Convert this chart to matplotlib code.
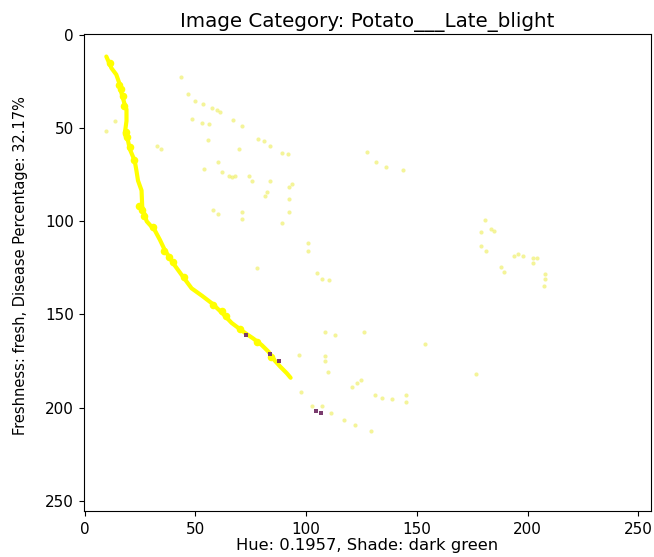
import matplotlib
matplotlib.use("Agg")
import matplotlib.pyplot as plt

title = "Image Category: Potato___Late_blight"
xlabel = "Hue: 0.1957, Shade: dark green"
ylabel = "Freshness: fresh, Disease Percentage: 32.17%"
ticks = [0, 50, 100, 150, 200, 250]

# main bright band (image pixel coords: column, row)
curve_x = [9.8, 12.1, 14.3, 15.9, 16.6, 18.1, 18.9, 18.9, 18.1, 19.6, 20.4, 22.6, 23.4, 24.1,
           25.7, 26.0, 28.0, 31.7, 34.0, 36.2, 40.0, 43.8, 48.3, 53.0, 57.4, 61.9, 66.4,
           72.5, 76.2, 80.0, 83.0, 86.0, 88.3, 91.3, 93.0]
curve_y = [11.6, 17.8, 21.3, 26.7, 31.1, 37.3, 40.0, 46.2, 53.3, 56.9, 61.3, 67.5, 72.9, 78.2,
           83.5, 92.0, 100.0, 104.9, 110.0, 115.5, 122.6, 128.8, 136.0, 140.0, 144.0, 149.0, 154.6,
           160.0, 163.0, 166.5, 170.0, 175.0, 178.0, 181.6, 184.0]

# thicker blobs on the band
blob_x = [15.5, 16.5, 18.0, 18.5, 19.0, 22.5, 24.5, 26.0, 36.0, 38.0, 40.0, 62.0, 64.0, 84.0,
          11.5, 17.5, 20.5, 27.0, 31.0, 45.0, 58.0, 70.0, 78.0]
blob_y = [27.0, 29.0, 38.0, 52.0, 55.0, 67.0, 92.0, 94.0, 116.0, 119.0, 122.0, 148.0, 151.0, 173.0,
          15.0, 33.0, 60.0, 97.0, 103.0, 130.0, 145.0, 158.0, 165.0]

# scattered faint pixels
dots_x = [9.8, 13.6, 43.3, 46.8, 49.8, 53.6, 57.4, 59.6, 61.1, 67.2, 71.0, 78.5, 80.8, 83.8,
          89.0, 48.6, 52.8, 56.2, 55.9, 69.5, 32.5, 34.7, 60.4, 54.0, 61.9, 65.0, 66.4, 67.9,
          74.0, 75.5, 83.8, 82.3, 93.7, 92.0, 127.6, 131.6, 135.9, 143.7, 92.4,
          58.1, 60.4, 71.0, 71.0, 81.5, 89.0, 77.8,
          108.7, 113.2, 126.0, 97.0, 108.7, 108.7, 109.7, 120.7, 123.0, 124.8, 131.3, 134.4,
          138.6, 97.7, 102.7, 107.2, 111.4, 117.0, 122.0, 129.4, 145.0, 145.0, 153.7,
          92.4, 92.4, 100.8, 100.8, 104.9, 107.2, 110.2,
          180.7, 178.9, 183.4, 184.9, 178.9, 181.2, 194.0, 195.5, 197.8, 202.3, 204.3, 202.3,
          188.0, 189.2, 207.9, 207.9, 207.3, 176.6]
dots_y = [51.5, 46.0, 22.6, 31.6, 35.5, 37.3, 39.4, 40.5, 41.4, 45.8, 48.9, 56.0, 57.2, 59.5,
          63.6, 45.3, 47.1, 48.0, 56.5, 61.3, 59.5, 61.3, 68.4, 72.0, 73.7, 75.5, 76.4, 75.5,
          75.5, 78.2, 78.2, 84.4, 80.0, 64.0, 63.0, 68.4, 71.0, 72.5, 81.4,
          94.2, 96.0, 95.0, 98.6, 86.2, 101.0, 125.3,
          159.4, 161.0, 159.4, 172.0, 172.3, 175.0, 181.0, 189.0, 186.6, 185.0, 193.0, 194.6,
          195.5, 191.7, 199.0, 199.4, 203.0, 206.5, 209.6, 212.7, 193.0, 197.0, 166.0,
          88.0, 95.0, 111.6, 115.8, 127.6, 131.0, 131.5,
          99.5, 106.0, 104.3, 105.2, 113.2, 115.8, 118.5, 117.6, 118.5, 119.8, 119.8, 122.6,
          124.7, 127.4, 128.3, 131.0, 134.5, 181.8]

# dark pixels
dark_x = [72.8, 83.8, 87.7, 104.6, 106.7]
dark_y = [161.0, 171.0, 175.0, 201.7, 203.0]

fig = plt.figure(figsize=(6.54, 5.57), dpi=100)
ax = fig.add_axes([0.1277, 0.0826, 0.867, 0.8564])

ax.plot(curve_x, curve_y, color="#ffff00", lw=3.0, solid_capstyle="round", zorder=2)
ax.scatter(blob_x, blob_y, s=30, color="#ffff00", marker="o", linewidths=0, zorder=3)
ax.scatter(dots_x, dots_y, s=9, color="#eeee55", marker="o", linewidths=0, alpha=0.6, zorder=2)
ax.scatter(dark_x, dark_y, s=6, color="#7a3c6e", marker="s", linewidths=0, zorder=4)

ax.set_xlim(-0.5, 255.5)
ax.set_ylim(255.5, -0.5)
ax.set_xticks(ticks)
ax.set_yticks(ticks)
ax.tick_params(labelsize=11)
ax.tick_params(axis="x", pad=4.5)
ax.set_title(title, fontsize=14.3, pad=5)
ax.set_xlabel(xlabel, fontsize=11.8, labelpad=1)
ax.set_ylabel(ylabel, fontsize=10.5)
ax.yaxis.set_label_coords(-0.098, 0.515)

fig.savefig("out.png", dpi=100)
